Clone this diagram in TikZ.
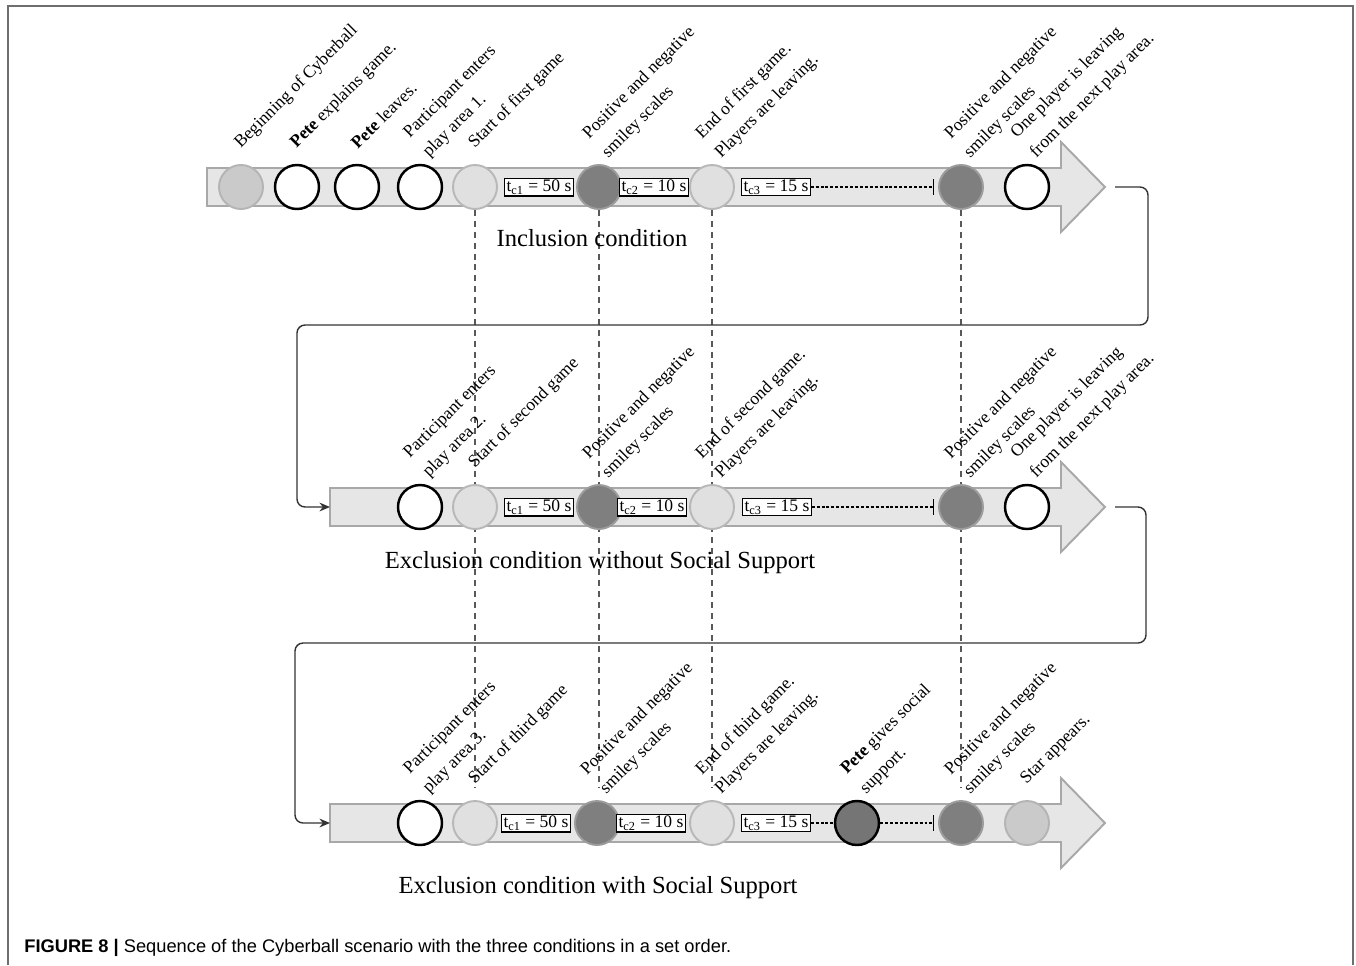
\documentclass[tikz,border=0pt]{standalone}
\usepackage{fontspec}
\setmainfont{Liberation Serif}
\newfontfamily\capfont{Liberation Sans}
\usetikzlibrary{calc,positioning,arrows.meta,backgrounds}
\definecolor{barfill}{HTML}{E6E6E6}
\definecolor{bardraw}{HTML}{A8A8A8}
\definecolor{lightfill}{HTML}{E0E0E0}
\definecolor{lightdraw}{HTML}{B8B8B8}
\definecolor{midfill}{HTML}{CACACA}
\definecolor{middraw}{HTML}{B4B4B4}
\definecolor{darkfill}{HTML}{7F7F7F}
\definecolor{darkdraw}{HTML}{9C9C9C}
\definecolor{framegray}{HTML}{6E6E6E}

\begin{document}
\begin{tikzpicture}[x=0.02cm,y=-0.02cm,
  lbl/.style={anchor=west, rotate=45, align=left, inner sep=0pt, font=\fontsize{10}{15.5}\selectfont},
  ttl/.style={font=\fontsize{14}{16}\selectfont, inner sep=0pt},
  ball/.style={circle, minimum size=0.88cm, inner sep=0pt, line width=1.1pt},
  bwhite/.style={ball, draw=black, fill=white, line width=1.4pt},
  blight/.style={ball, draw=lightdraw, fill=lightfill},
  bmid/.style={ball, draw=middraw, fill=midfill},
  bdark/.style={ball, draw=darkdraw, fill=darkfill},
  bpete/.style={ball, draw=black, fill=darkfill!92!black, line width=1.4pt},
  tbox/.style={draw, fill=white, line width=0.6pt, inner sep=1pt, font=\fontsize{10}{11}\selectfont},
  bar/.style={draw=bardraw, fill=barfill, line width=1.1pt},
  conn/.style={draw=black!80, line width=0.8pt, rounded corners=0.16cm, -{Stealth[length=6pt,width=5pt]}},
  vdash/.style={draw=black!65, line width=0.8pt, dash pattern=on 3.4pt off 2.8pt},
  tdash/.style={draw=black, line width=0.6pt, dash pattern=on 1.7pt off 1.1pt}]
\useasboundingbox (0,0) rectangle (1356,965);
\draw[framegray, line width=1.1pt] (8,965) -- (8,6) -- (1353,6) -- (1353,965);

% the three time lines
\foreach \t/\x/\y in {1/207/187, 2/330/507, 3/330/823}{
  \draw[bar] (\x,\y-19) -- (1061,\y-19) -- (1061,\y-45) -- (1105,\y) -- (1061,\y+45) -- (1061,\y+19) -- (\x,\y+19) -- cycle;
  \coordinate (tail\t) at (\x,\y);
  \coordinate (tip\t) at (1105,\y);
}

% inclusion
\foreach \n/\x/\s in {a1/241/bmid, a2/297/bwhite, a3/357/bwhite, a4/420/bwhite, a5/475/blight, a6/599/bdark, a7/712/blight, a8/961/bdark, a9/1027/bwhite}
  \node[\s] (\n) at (\x,187) {};
% exclusion
\foreach \n/\x/\s in {b1/420/bwhite, b2/475/blight, b3/599/bdark, b4/712/blight, b5/961/bdark, b6/1027/bwhite}
  \node[\s] (\n) at (\x,507) {};
% exclusion with support
\foreach \n/\x/\s in {c1/420/bwhite, c2/475/blight, c3/597/bdark, c4/712/blight, c5/857/bpete, c6/961/bdark, c7/1027/bmid}
  \node[\s] (\n) at (\x,823) {};

\foreach \n/\t in {a1/{Beginning of Cyberball}, a2/{\textbf{Pete} explains game.}, a3/{\textbf{Pete} leaves.},
  a4/{Participant enters\\play area 1.}, a5/{Start of first game}, a6/{Positive and negative\\smiley scales},
  a7/{End of first game.\\Players are leaving.}, a8/{Positive and negative\\smiley scales},
  a9/{One player is leaving\\from the next play area.},
  b1/{Participant enters\\play area 2.}, b2/{Start of second game}, b3/{Positive and negative\\smiley scales},
  b4/{End of second game.\\Players are leaving.}, b5/{Positive and negative\\smiley scales},
  b6/{One player is leaving\\from the next play area.},
  c1/{Participant enters\\play area 3.}, c2/{Start of third game}, c3/{Positive and negative\\smiley scales},
  c4/{End of third game.\\Players are leaving.}, c5/{\textbf{Pete} gives social\\support.},
  c6/{Positive and negative\\smiley scales}, c7/{Star appears.}}
  \node[above left=0.36cm and 0.07cm of \n.north, lbl] {\t};

% time boxes
\node[tbox] (ta1) at (539,187) {t\textsubscript{c1} = 50 s};
\node[tbox] (ta2) at (654,187) {t\textsubscript{c2} = 10 s};
\node[tbox] (ta3) at (776,187) {t\textsubscript{c3} = 15 s};
\node[tbox] (tb1) at (539,507) {t\textsubscript{c1} = 50 s};
\node[tbox] (tb2) at (652,507) {t\textsubscript{c2} = 10 s};
\node[tbox] (tb3) at (777,507) {t\textsubscript{c3} = 15 s};
\node[tbox] (tc1) at (536,823) {t\textsubscript{c1} = 50 s};
\node[tbox] (tc2) at (651,823) {t\textsubscript{c2} = 10 s};
\node[tbox] (tc3) at (776,823) {t\textsubscript{c3} = 15 s};
\coordinate (ea) at ($(a8.west)+(-4,0)$);
\coordinate (eb) at ($(b5.west)+(-4,0)$);
\coordinate (ec) at ($(c6.west)+(-4,0)$);
\draw[tdash, -{Bar[width=9pt]}] (ta3) -- (ea);
\draw[tdash, -{Bar[width=9pt]}] (tb3) -- (eb);
\draw[tdash] (tc3) -- (c5);
\draw[tdash, -{Bar[width=9pt]}] (c5) -- (ec);

% condition names
\node[ttl] (n1) at (592,238) {Inclusion condition};
\node[ttl] (n2) at (600,563) {Exclusion condition without Social Support};
\node[ttl] (n3) at (598,888) {Exclusion condition with Social Support};

% links between the rows
\draw[conn] ($(tip1)+(10,0)$) -| ($(tip1)+(43,138)$) -| ($(tail2)+(-33,0)$) -- (tail2);
\draw[conn] ($(tip2)+(10,0)$) -| ($(tip2)+(41,136)$) -| ($(tail3)+(-35,0)$) -- (tail3);

\begin{scope}[on background layer]
\foreach \u/\v in {a5/c2, a6/c3, a7/c4, a8/c6}
  \draw[vdash] (\u.south) -- ($(\u |- \v.north)+(0,-12)$);
\end{scope}

\node[anchor=base west, inner sep=0pt, font=\capfont\fontsize{10.4}{12}\selectfont] (cap) at (24,952)
  {\textbf{FIGURE 8 |} Sequence of the Cyberball scenario with the three conditions in a set order.};
\end{tikzpicture}
\end{document}
